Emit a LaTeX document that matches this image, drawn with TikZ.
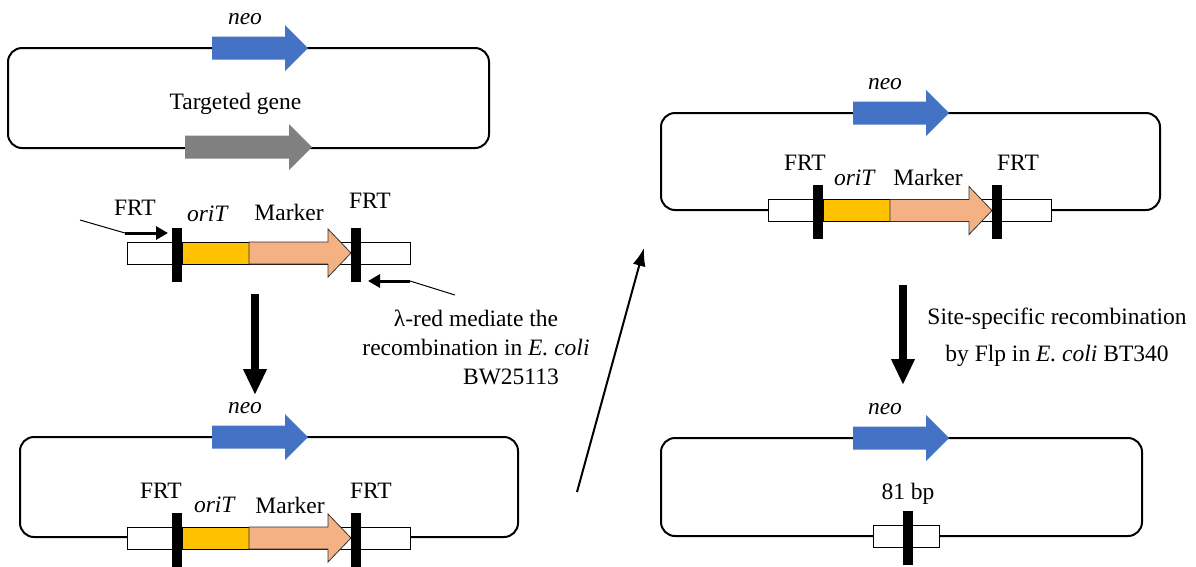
\documentclass[tikz,border=0pt]{standalone}
\usepackage{fontspec}
\setmainfont{Liberation Serif}
\usetikzlibrary{arrows.meta,positioning}
\definecolor{neoblue}{HTML}{4472C4}
\definecolor{genegray}{HTML}{808080}
\definecolor{oriorange}{HTML}{FFC000}
\definecolor{markersalmon}{HTML}{F4B183}
% block arrow for a gene: tail x, tip x, axis y, colour
\newcommand{\genearrow}[4]{%
  \fill[#4] ({#1},{#3-11.5}) -- ({#2-23},{#3-11.5}) -- ({#2-23},{#3-23}) -- ({#2},{#3})
    -- ({#2-23},{#3+23}) -- ({#2-23},{#3+11.5}) -- ({#1},{#3+11.5}) -- cycle;}
% FRT-oriT-Marker-FRT cassette: name, left x of the box, axis y
\newcommand{\cassette}[3]{%
  \node[seg box, minimum width=283pt, anchor=west] (#1box) at ({#2},{#3}) {};
  \node[ori seg, anchor=west] (#1ori) at ({#2+55},{#3}) {};
  \filldraw[fill=markersalmon, draw=black!80, line width=0.8pt]
    ({#2+122},{#3-11}) -- ({#2+201},{#3-11}) -- ({#2+201},{#3-24}) -- ({#2+224},{#3})
    -- ({#2+201},{#3+24}) -- ({#2+201},{#3+11}) -- ({#2+122},{#3+11}) -- cycle;
  \node[frt bar] (#1frtl) at ({#2+50},{#3+1.5}) {};
  \node[frt bar] (#1frtr) at ({#2+229},{#3+1.5}) {};}

\begin{document}
\begin{tikzpicture}[
        x=1pt, y=-1pt,
        font=\fontsize{23.5}{29}\selectfont,
        plasmid/.style={
            draw,
            line width=2pt,
            rounded corners=14pt,
            inner sep=0pt,
            outer sep=0pt
        },
        seg box/.style={
            draw,
            fill=white,
            line width=0.8pt,
            minimum height=22pt,
            inner sep=0pt,
            outer sep=0pt
        },
        ori seg/.style={seg box, fill=oriorange, minimum width=67pt},
        frt bar/.style={fill=black, minimum width=10pt, minimum height=54pt, inner sep=0pt},
        tag/.style={inner sep=0pt},
        step arrow/.style={-{Triangle[width=22pt,length=26pt]}, line width=8pt},
        primer/.style={-{Triangle[width=13pt,length=12pt]}, line width=3pt}
    ]
        \useasboundingbox (0,0) rectangle (1196,566);

        % --- PLASMIDS ---
        \node[plasmid, minimum width=481pt, minimum height=100pt] (p1) at (248.5,98) {};
        \node[plasmid, minimum width=498pt, minimum height=100pt] (p2) at (269,487) {};
        \node[plasmid, minimum width=499pt, minimum height=97pt] (p3) at (910.5,161.5) {};
        \node[plasmid, minimum width=481pt, minimum height=98pt] (p4) at (901.5,487) {};

        % --- GENES ON THE PLASMIDS ---
        \genearrow{212}{308}{48}{neoblue}
        \genearrow{185}{312}{147}{genegray}
        \genearrow{212}{308}{437}{neoblue}
        \genearrow{853}{949}{113}{neoblue}
        \genearrow{853}{949}{438}{neoblue}

        \node[tag] (neo1) at (245,19) {\textit{neo}};
        \node[tag] (tgene) at (235.5,104) {Targeted gene};
        \node[tag] (neo2) at (245,408) {\textit{neo}};
        \node[tag] (neo3) at (885,84) {\textit{neo}};
        \node[tag] (neo4) at (885,409) {\textit{neo}};

        % --- CASSETTES ---
        \cassette{c1}{127}{253}
        \cassette{c2}{768}{210.5}
        \cassette{c3}{127}{538}

        % scar left after Flp
        \node[seg box, minimum width=66pt] (c4box) at (906,536.5) {};
        \node[frt bar] (c4frt) at (908,538) {};

        % cassette labels
        \node[tag] (c1frtl) at (135,207.5) {FRT};
        \node[tag] (c1ori) at (208,213.5) {\textit{oriT}};
        \node[tag] (c1mk) at (289,212) {Marker};
        \node[tag] (c1frtr) at (370,200.5) {FRT};

        \node[tag] (c2frtl) at (805,163) {FRT};
        \node[tag] (c2ori) at (855,178) {\textit{oriT}};
        \node[tag] (c2mk) at (928,177) {Marker};
        \node[tag] (c2frtr) at (1018,163) {FRT};

        \node[tag] (c3frtl) at (161,490.5) {FRT};
        \node[tag] (c3ori) at (215,504.5) {\textit{oriT}};
        \node[tag] (c3mk) at (290,505) {Marker};
        \node[tag] (c3frtr) at (371,490.5) {FRT};

        \node[tag] (scar) at (908,494) {81 bp};

        % --- PRIMERS ---
        \coordinate (pl0) at (80,220);
        \coordinate (pl1) at (125,233);
        \coordinate (pl2) at (168,233);
        \coordinate (pr0) at (455,295);
        \coordinate (pr1) at (410,281);
        \coordinate (pr2) at (368,281);
        \draw[line width=1pt] (pl0) -- (pl1);
        \draw[primer] (pl1) -- (pl2);
        \draw[line width=1pt] (pr0) -- (pr1);
        \draw[primer] (pr1) -- (pr2);

        % --- STEPS ---
        \node[tag, align=center] (lred) at (476,347)
            {λ-red mediate the\\ recombination in \textit{E. coli}\\ \hspace*{70pt}BW25113};
        \node[tag, align=center] (flp) at (1057,337)
            {Site-specific recombination\\[8pt] by Flp in \textit{E. coli} BT340};

        \coordinate (s1a) at (255,294);
        \coordinate (s1b) at (255,395);
        \draw[step arrow] (s1a) -- (s1b);

        \coordinate (s2a) at (577,492);
        \coordinate (s2b) at (644,248);
        \draw[-{Latex[length=18pt,width=13pt]}, line width=2pt] (s2a) -- (s2b);

        \coordinate (s3a) at (903,285);
        \coordinate (s3b) at (903,385);
        \draw[step arrow] (s3a) -- (s3b);

    \end{tikzpicture}
\end{document}
